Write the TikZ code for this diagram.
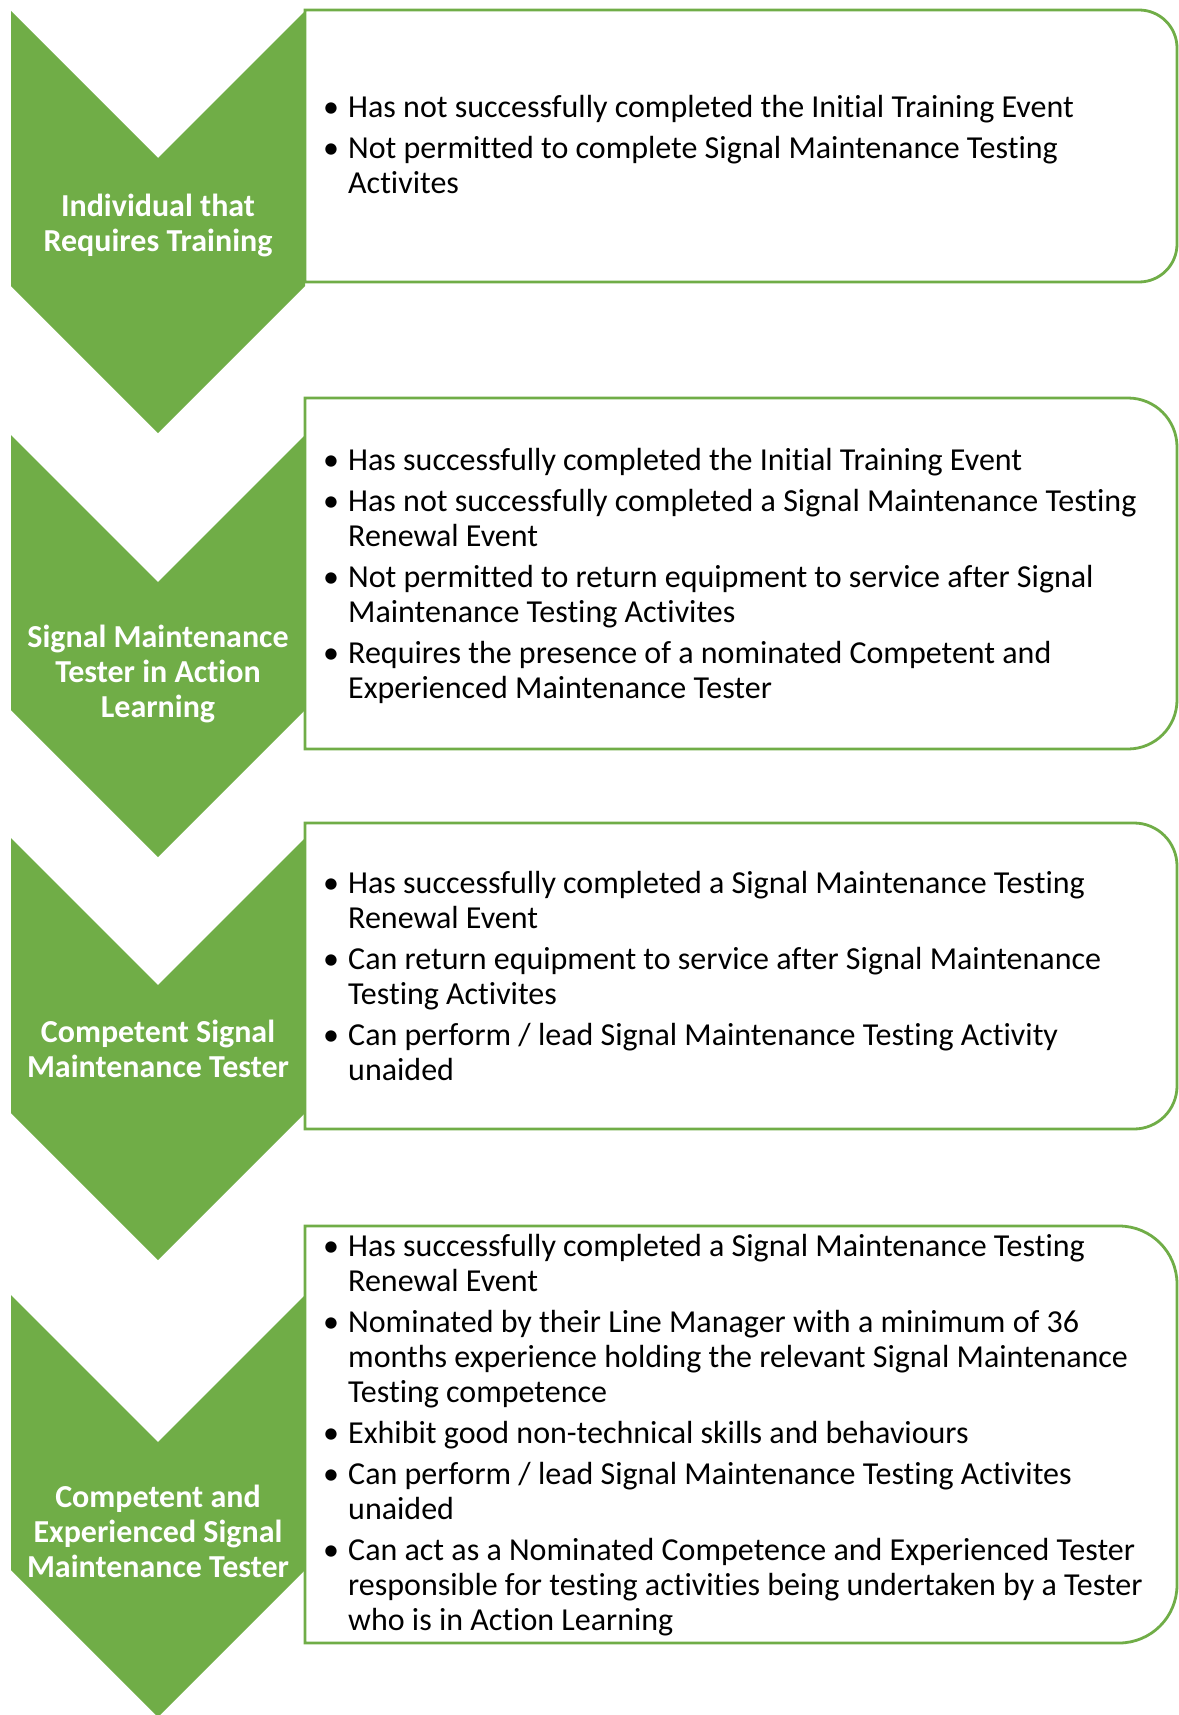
\documentclass[tikz,border=0pt]{standalone}
\usepackage{fontspec}
\setmainfont{Carlito}[Ligatures=NoCommon]
\usepackage{tikz}
\definecolor{chevgreen}{HTML}{70AD47}
\newcommand{\bul}{\makebox[25pt][l]{\textbullet}}

\begin{document}
\begin{tikzpicture}[x=1pt,y=-1pt]
		\tikzset{chevron/.style={fill=chevgreen},
			infobox/.style={draw=chevgreen,line width=2.8pt,fill=white},
			chevlabel/.style={anchor=base,inner sep=0pt,text=white,font=\fontsize{32}{35}\selectfont\bfseries},
			infotext/.style={anchor=base west,inner sep=0pt,font=\fontsize{32}{35}\selectfont}};
		\useasboundingbox (0,0) rectangle (1178,1715);
		% chevrons down the left side
		\fill[chevron] (11,11) -- ++(147,147) -- ++(147,-147) -- ++(0,275) -- ++(-147,147) -- ++(-147,-147) -- cycle;
		\fill[chevron] (11,435) -- ++(147,147) -- ++(147,-147) -- ++(0,275) -- ++(-147,147) -- ++(-147,-147) -- cycle;
		\fill[chevron] (11,838) -- ++(147,147) -- ++(147,-147) -- ++(0,275) -- ++(-147,147) -- ++(-147,-147) -- cycle;
		\fill[chevron] (11,1295) -- ++(147,147) -- ++(147,-147) -- ++(0,275) -- ++(-147,147) -- ++(-147,-147) -- cycle;
		% boxes, rounded on the right only
		\draw[infobox] (305,10) -- (1139,10) arc[start angle=270,end angle=360,radius=38] -- (1177,244) arc[start angle=0,end angle=90,radius=38] -- (305,282) -- cycle;
		\draw[infobox] (305,398) -- (1128,398) arc[start angle=270,end angle=360,radius=49] -- (1177,700) arc[start angle=0,end angle=90,radius=49] -- (305,749) -- cycle;
		\draw[infobox] (305,823) -- (1134,823) arc[start angle=270,end angle=360,radius=43] -- (1177,1086) arc[start angle=0,end angle=90,radius=43] -- (305,1129) -- cycle;
		\draw[infobox] (305,1226) -- (1119,1226) arc[start angle=270,end angle=360,radius=58] -- (1177,1585) arc[start angle=0,end angle=90,radius=58] -- (305,1643) -- cycle;
		% levels
		\node[chevlabel] (lvlA) at (158,216) {\begin{tabular}[t]{@{}c@{}}Individual that\\Requires Training\end{tabular}};
		\node[chevlabel] (lvlB) at (158,647) {\begin{tabular}[t]{@{}c@{}}Signal Maintenance\\Tester in Action\\Learning\end{tabular}};
		\node[chevlabel] (lvlC) at (158,1042) {\begin{tabular}[t]{@{}c@{}}Competent Signal\\Maintenance Tester\end{tabular}};
		\node[chevlabel] (lvlD) at (158,1507) {\begin{tabular}[t]{@{}c@{}}Competent and\\Experienced Signal\\Maintenance Tester\end{tabular}};
		% what each level means
		\node[infotext] (infoA) at (323,118) {\begin{tabular}[t]{@{}l@{}l@{}}
			\bul & Has not successfully completed the Initial Training Event\\[6pt]
			\bul & Not permitted to complete Signal Maintenance Testing\\
			& Activites
		\end{tabular}};
		\node[infotext] (infoB) at (323,470) {\begin{tabular}[t]{@{}l@{}l@{}}
			\bul & Has successfully completed the Initial Training Event\\[6pt]
			\bul & Has not successfully completed a Signal Maintenance Testing\\
			& Renewal Event\\[6pt]
			\bul & Not permitted to return equipment to service after Signal\\
			& Maintenance Testing Activites\\[6pt]
			\bul & Requires the presence of a nominated Competent and\\
			& Experienced Maintenance Tester
		\end{tabular}};
		\node[infotext] (infoC) at (323,893) {\begin{tabular}[t]{@{}l@{}l@{}}
			\bul & Has successfully completed a Signal Maintenance Testing\\
			& Renewal Event\\[6pt]
			\bul & Can return equipment to service after Signal Maintenance\\
			& Testing Activites\\[6pt]
			\bul & Can perform / lead Signal Maintenance Testing Activity\\
			& unaided
		\end{tabular}};
		\node[infotext] (infoD) at (323,1256) {\begin{tabular}[t]{@{}l@{}l@{}}
			\bul & Has successfully completed a Signal Maintenance Testing\\
			& Renewal Event\\[6pt]
			\bul & Nominated by their Line Manager with a minimum of 36\\
			& months experience holding the relevant Signal Maintenance\\
			& Testing competence\\[6pt]
			\bul & Exhibit good non-technical skills and behaviours\\[6pt]
			\bul & Can perform / lead Signal Maintenance Testing Activites\\
			& unaided\\[6pt]
			\bul & Can act as a Nominated Competence and Experienced Tester\\
			& responsible for testing activities being undertaken by a Tester\\
			& who is in Action Learning
		\end{tabular}};
	\end{tikzpicture}
\end{document}
